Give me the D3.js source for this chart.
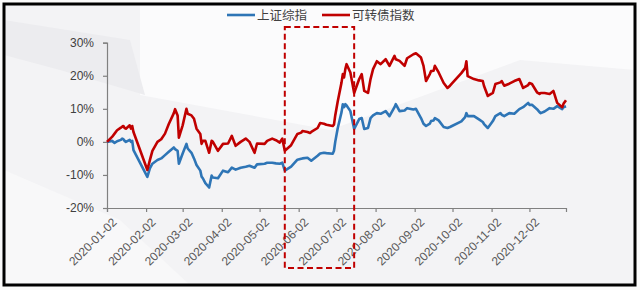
<!DOCTYPE html>
<html>
<head>
<meta charset="utf-8">
<script src="https://cdn.jsdelivr.net/npm/d3@7/dist/d3.min.js"></script>
<style>
  html, body { margin: 0; padding: 0; background: #fff; }
  svg { display: block; }
  text { font-family: "Liberation Sans", Arial, "Noto Sans CJK SC", sans-serif; }
</style>
</head>
<body>
<svg id="chart" width="640" height="290"></svg>
<script>

// trading dates
var dates = [
  "2020-01-02","2020-01-06","2020-01-08","2020-01-10","2020-01-13","2020-01-14","2020-01-15","2020-01-16",
  "2020-01-17","2020-01-20","2020-01-21","2020-01-22","2020-01-23","2020-02-03","2020-02-05","2020-02-07",
  "2020-02-11","2020-02-14","2020-02-17","2020-02-20","2020-02-24","2020-02-25","2020-02-27","2020-02-28",
  "2020-03-02","2020-03-05","2020-03-06","2020-03-09","2020-03-11","2020-03-13","2020-03-16","2020-03-17",
  "2020-03-18","2020-03-20","2020-03-23","2020-03-25","2020-03-26","2020-03-30","2020-04-03","2020-04-07",
  "2020-04-10","2020-04-13","2020-04-17","2020-04-21","2020-04-24","2020-04-28","2020-04-30","2020-05-06",
  "2020-05-08","2020-05-12","2020-05-15","2020-05-18","2020-05-20","2020-05-22","2020-05-27","2020-06-01",
  "2020-06-04","2020-06-05","2020-06-09","2020-06-11","2020-06-12","2020-06-17","2020-06-19","2020-06-22",
  "2020-06-24","2020-06-29","2020-06-30","2020-07-01","2020-07-03","2020-07-06","2020-07-07","2020-07-08",
  "2020-07-09","2020-07-10","2020-07-13","2020-07-16","2020-07-20","2020-07-22","2020-07-24","2020-07-27",
  "2020-07-29","2020-07-31","2020-08-03","2020-08-06","2020-08-10","2020-08-13","2020-08-17","2020-08-18",
  "2020-08-21","2020-08-25","2020-08-27","2020-09-01","2020-09-03","2020-09-07","2020-09-09","2020-09-11",
  "2020-09-14","2020-09-15","2020-09-17","2020-09-18","2020-09-21","2020-09-25","2020-09-28","2020-09-30",
  "2020-10-09","2020-10-12","2020-10-13","2020-10-14","2020-10-19","2020-10-23","2020-10-26","2020-10-27",
  "2020-10-30","2020-11-03","2020-11-05","2020-11-09","2020-11-10","2020-11-12","2020-11-16","2020-11-20",
  "2020-11-24","2020-11-27","2020-12-01","2020-12-02","2020-12-04","2020-12-08","2020-12-10","2020-12-11",
  "2020-12-14","2020-12-18","2020-12-21","2020-12-24","2020-12-28","2020-12-29","2020-12-31"
];

// 上证综指, cumulative return in %
var sseValues = [
  0, 0.3, -0.3, 0.2, 0.6, 1.0, 0.8, 0.3,
  0.0, 0.6, 0.0, 0.3, -2.5, -10.6, -8.0, -6.6,
  -5.5, -5.0, -4.0, -3.0, -1.7, -2.2, -2.7, -6.6,
  -3.5, -0.6, -2.0, -3.3, -5.0, -7.0, -8.7, -10.5,
  -11.0, -12.5, -13.8, -10.2, -10.8, -11.0, -8.7, -9.2,
  -7.8, -8.4, -7.8, -7.5, -7.2, -7.8, -6.8, -6.6,
  -6.3, -6.3, -6.5, -6.6, -6.3, -8.7, -7.5, -5.4,
  -5.1, -5.0, -4.8, -5.4, -5.7, -4.2, -3.5, -3.3,
  -3.4, -3.6, -2.7, 0.0, 4.2, 9.0, 11.4, 10.5,
  11.4, 11.0, 9.3, 3.9, 6.9, 7.2, 3.9, 4.2,
  7.2, 8.0, 8.7, 8.5, 9.3, 7.8, 10.5, 11.4,
  9.3, 9.5, 10.2, 9.8, 10.0, 7.2, 5.5, 4.8,
  5.5, 6.3, 6.5, 7.2, 6.5, 4.5, 4.2, 4.5,
  6.2, 7.5, 8.7, 7.8, 7.8, 6.8, 6.0, 5.4,
  4.2, 6.3, 7.8, 8.7, 8.2, 7.8, 8.7, 8.5,
  9.9, 10.5, 11.8, 11.2, 11.2, 9.9, 9.0, 8.7,
  9.2, 10.2, 10.0, 10.8, 9.9, 10.5, 10.8
];

// 可转债指数, cumulative return in %
var cbValues = [
  0, 1.5, 2.5, 3.5, 4.3, 4.6, 4.8, 4.2,
  4.0, 5.0, 4.0, 4.8, 3.0, -8.5, -5.5, -2.7,
  0.0, 0.8, 2.5, 5.4, 8.7, 9.9, 8.0, 1.3,
  5.0, 10.0, 8.5, 8.0, 7.0, 4.0, 2.4, -0.6,
  0.3, 0.3, -3.3, 0.3, 0.0, -2.7, -0.6, -0.5,
  1.8, -1.2, 0.0, 1.0, 0.0, -3.3, -0.5, -0.6,
  0.3, 1.0, 0.5, -0.2, 1.0, -2.7, -1.0, 2.4,
  2.8, 3.3, 3.0, 2.7, 3.0, 4.2, 5.7, 5.5,
  5.2, 4.8, 5.2, 8.0, 12.3, 18.0, 20.5, 19.5,
  22.0, 23.5, 21.0, 14.8, 19.0, 20.5, 15.4, 14.8,
  19.0, 22.0, 24.4, 23.5, 25.0, 23.0, 26.0, 25.0,
  24.5, 23.0, 25.3, 26.5, 26.8, 25.5, 23.0, 18.4,
  20.5, 21.4, 21.5, 23.0, 21.0, 17.8, 16.3, 17.0,
  20.8, 22.3, 24.4, 19.9, 19.0, 18.6, 18.4, 16.9,
  13.9, 14.8, 17.5, 18.0, 18.4, 17.0, 17.6, 18.4,
  19.0, 16.3, 17.2, 17.8, 17.5, 15.0, 14.5, 14.8,
  14.8, 14.5, 15.4, 11.8, 10.5, 11.5, 12.6
];

var tickDates = ["2020-01-02","2020-02-02","2020-03-02","2020-04-02","2020-05-02","2020-06-02",
                 "2020-07-02","2020-08-02","2020-09-02","2020-10-02","2020-11-02","2020-12-02"];
var yTicks = [-20, -10, 0, 10, 20, 30];
var seriesNames = ["上证综指", "可转债指数"];
var highlight = ["2020-05-22", "2020-07-16"];   // dashed box period

var parse = d3.timeParse("%Y-%m-%d");
var svg = d3.select("#chart");

/* slide background with the black frame */
svg.append("rect").attr("x", 0).attr("y", 0).attr("width", 640).attr("height", 290).attr("fill", "#fafafa");
svg.append("rect").attr("x", 4).attr("y", 4).attr("width", 631).attr("height", 281).attr("fill", "#f3f3f5");
var bg = svg.append("g");
bg.append("path").attr("d", "M140,4 L635,4 L635,70 L520,60 L330,130 L140,95 Z").attr("fill", "#fbfbfc");
bg.append("path").attr("d", "M4,20 L130,40 L145,95 L60,70 L4,55 Z").attr("fill", "#ececef");
bg.append("path").attr("d", "M4,170 L120,220 L190,285 L4,285 Z").attr("fill", "#f8f8f9");
svg.append("rect").attr("x", 4).attr("y", 4).attr("width", 631).attr("height", 281)
   .attr("fill", "none").attr("stroke", "#000").attr("stroke-width", 3);

var x = d3.scaleTime()
  .domain([parse("2020-01-02"), parse("2020-12-31")])
  .range([107, 566]);

var y = d3.scaleLinear()
  .domain([-20, 30])
  .range([208, 42.7]);

// y axis
var yAxis = svg.append("g")
  .attr("transform", "translate(107,0)")
  .call(d3.axisLeft(y).tickValues(yTicks).tickSize(4).tickPadding(9).tickFormat(function(d) { return d + "%"; }));
yAxis.selectAll("text").attr("fill", "#404040").style("font-size", "12px");

// x axis
var xAxis = svg.append("g")
  .attr("transform", "translate(0," + y(-20) + ")")
  .call(d3.axisBottom(x).tickValues(tickDates.map(parse)).tickSize(4).tickFormat(d3.timeFormat("%Y-%m-%d")));
xAxis.selectAll("text")
  .attr("fill", "#595959")
  .style("font-size", "12px")
  .attr("text-anchor", "end")
  .attr("dx", "0")
  .attr("dy", "0")
  .attr("transform", "translate(5,10) rotate(-45)");

svg.selectAll(".domain").attr("stroke", "#808080").attr("stroke-width", 1.2);
svg.selectAll(".tick line").attr("stroke", "#808080").attr("stroke-width", 1.2);

// lines
var rows = dates.map(function(d, i) {
  return { date: parse(d), sse: sseValues[i], cb: cbValues[i] };
});

var colors = ["#2e75b6", "#c00000"];
var keys = ["sse", "cb"];

keys.forEach(function(k, j) {
  var line = d3.line()
    .x(function(d) { return x(d.date); })
    .y(function(d) { return y(d[k]); });

  svg.append("path")
     .datum(rows)
     .attr("d", line)
     .attr("fill", "none")
     .attr("stroke", colors[j])
     .attr("stroke-width", 2.6)
     .attr("stroke-linejoin", "round");
});

// dashed highlight box
var x0 = x(parse(highlight[0])), x1 = x(parse(highlight[1]));
svg.append("rect")
   .attr("x", x0).attr("y", 27)
   .attr("width", x1 - x0).attr("height", 241)
   .attr("fill", "none")
   .attr("stroke", "#c00000")
   .attr("stroke-width", 2)
   .attr("stroke-dasharray", "6,3.5");

// legend
var legend = svg.append("g");
var legendX = [227, 322];
seriesNames.forEach(function(name, j) {
  var g = legend.append("g").attr("transform", "translate(" + legendX[j] + ",15)");
  g.append("line").attr("x1", 0).attr("x2", 28).attr("y1", 0).attr("y2", 0)
   .attr("stroke", colors[j]).attr("stroke-width", 2.6);
  g.append("text").attr("x", 30).attr("y", 4.5)
   .attr("fill", "#404040").style("font-size", "12.5px")
   .style("font-family", "'Noto Sans CJK SC', sans-serif")
   .text(name);
});

</script>
</body>
</html>
